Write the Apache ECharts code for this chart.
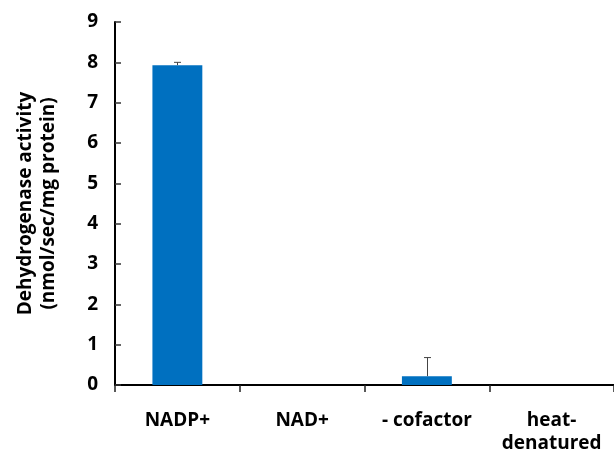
<!DOCTYPE html>
<html>
<head>
<meta charset="utf-8">
<script src="https://cdn.jsdelivr.net/npm/echarts@6/dist/echarts.min.js"></script>
<style>
  html, body { margin: 0; padding: 0; background: #fff; }
  #chart { width: 614px; height: 452px; }
</style>
</head>
<body>
<div id="chart"></div>
<script>
const categories = ["NADP+", "NAD+", "- cofactor", "heat-\ndenatured"];
const activity = [7.93, 0, 0.22, 0];
const errorUp = [0.07, 0, 0.46, 0];
const yTicks = [0, 1, 2, 3, 4, 5, 6, 7, 8, 9];

const chart = echarts.init(document.getElementById("chart"));
const font = "'Open Sans', 'Noto Sans', sans-serif";

const option = {
    animation: false,
    grid: { left: 115, right: 0, top: 22, bottom: 67, outerBoundsMode: "none" },
    xAxis: {
        type: "category",
        data: categories,
        axisLine: { lineStyle: { color: "#000", width: 2 } },
        axisTick: { show: true, length: 7, lineStyle: { color: "#222", width: 1.5 } },
        axisLabel: {
            interval: 0,
            hideOverlap: false,
            color: "#000",
            fontFamily: font,
            fontWeight: "bold",
            fontSize: 19,
            margin: 24,
            lineHeight: 23
        }
    },
    yAxis: {
        type: "value",
        min: yTicks[0],
        max: yTicks[yTicks.length - 1],
        interval: 1,
        name: "Dehydrogenase activity\n(nmol/sec/mg protein)",
        nameLocation: "middle",
        nameGap: 55,
        nameTextStyle: {
            color: "#000",
            fontFamily: font,
            fontWeight: "bold",
            fontSize: 19,
            lineHeight: 23
        },
        axisLine: { show: true, lineStyle: { color: "#000", width: 2 } },
        axisTick: { show: true, inside: true, length: 6, lineStyle: { color: "#333", width: 1.5 } },
        splitLine: { show: false },
        axisLabel: {
            color: "#000",
            fontFamily: font,
            fontWeight: "bold",
            fontSize: 19,
            margin: 17
        }
    },
    series: [
        {
            name: "Activity",
            type: "bar",
            data: activity,
            barWidth: "40%",
            itemStyle: { color: "#0070C0" }
        },
        {
            name: "Error",
            type: "custom",
            data: activity.map((v, i) => [i, v, v + errorUp[i]]),
            z: 5,
            renderItem: (params, api) => {
                const i = api.value(0);
                if (errorUp[i] <= 0) return null;
                const base = api.coord([i, api.value(1)]);
                const top = api.coord([i, api.value(2)]);
                const x = Math.round(base[0]) + 0.5;
                const style = { stroke: "#444", lineWidth: 1 };
                return {
                    type: "group",
                    children: [
                        { type: "line", shape: { x1: x, y1: base[1], x2: x, y2: top[1] }, style },
                        { type: "line", shape: { x1: x - 3.5, y1: top[1], x2: x + 3.5, y2: top[1] }, style }
                    ]
                };
            }
        }
    ]
};

chart.setOption(option);
</script>
</body>
</html>
